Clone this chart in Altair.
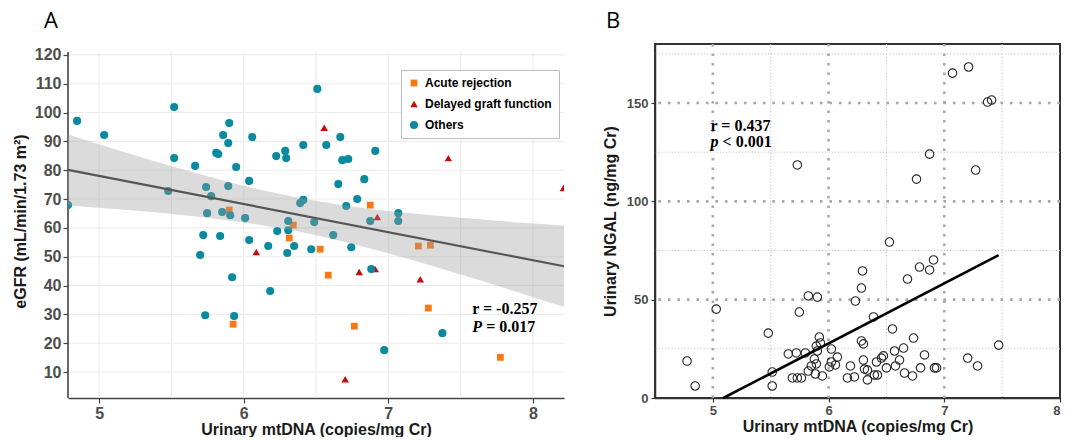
import altair as alt
import pandas as pd

# ---------------- Panel A data ----------------
a_others_x = [4.785, 4.848, 5.035, 5.519, 5.519, 5.664, 5.478, 5.740, 5.775, 5.810,
              5.824, 5.858, 5.900, 5.893, 5.948, 5.893, 6.059, 6.038, 5.747, 5.851,
              5.907, 6.010, 6.225, 6.287, 6.294, 6.232, 5.720, 5.837, 6.038, 6.170,
              5.699, 5.920, 6.183, 5.734, 5.934, 6.509, 6.668, 6.412, 6.571, 6.910,
              6.682, 6.723, 6.834, 6.654, 6.785, 6.412, 6.391, 6.709, 7.069, 7.069,
              6.875, 6.488, 6.308, 6.308, 6.619, 6.349, 6.301, 6.467, 6.744, 6.882,
              7.374, 6.972]
a_others_y = [67.9, 97.1, 92.2, 101.9, 84.2, 81.5, 72.8, 74.2, 71.0, 86.0,
              85.6, 92.2, 96.4, 89.4, 81.1, 74.5, 91.5, 76.3, 65.1, 65.5,
              64.4, 63.4, 84.9, 86.7, 84.2, 58.9, 57.5, 57.2, 55.8, 53.7,
              50.6, 42.9, 38.1, 29.7, 29.4, 108.2, 91.5, 88.75, 88.75, 86.7,
              83.5, 83.9, 76.9, 75.2, 70.0, 69.7, 68.6, 67.6, 65.1, 62.4,
              62.4, 62.0, 62.4, 59.2, 57.5, 53.7, 51.3, 52.6, 53.3, 45.7,
              23.5, 17.6]
a_ar_x = [5.900, 6.343, 6.315, 6.529, 6.585, 6.875, 7.208, 7.291, 7.277, 6.765, 5.927, 7.775]
a_ar_y = [66.2, 61.0, 56.5, 52.6, 43.6, 67.9, 53.7, 54.0, 32.2, 25.9, 26.6, 15.1]
a_dgf_x = [6.087, 6.557, 6.924, 6.799, 6.910, 7.221, 6.702, 7.415, 8.211]
a_dgf_y = [51.6, 94.7, 63.75, 44.7, 45.7, 42.2, 7.5, 84.2, 73.8]
groups = ["Acute rejection", "Delayed graft function", "Others"]

a_fit_x = [4.785, 8.215]
a_fit_y = [80.1, 46.7]
a_band_x = [4.785, 5.2, 5.6, 6.0, 6.35, 6.7, 7.1, 7.5, 7.9, 8.215]
a_band_lo = [67.8, 66.2, 64.3, 61.9, 59.0, 55.1, 49.8, 43.8, 37.6, 32.6]
a_band_hi = [92.4, 85.9, 80.0, 74.6, 70.7, 67.8, 65.3, 63.5, 61.9, 60.8]
a_grid_x = [5, 5.5, 6, 6.5, 7, 7.5, 8]
a_grid_y = [10, 20, 30, 40, 50, 60, 70, 80, 90, 100, 110, 120]
a_xticks = [5, 6, 7, 8]
a_yticks = [10, 20, 30, 40, 50, 60, 70, 80, 90, 100, 110, 120]
a_panel_x = [4.785, 8.215]
a_panel_y = [1, 121]
a_stat_x = [7.58]
a_stat_y = [30.1, 23.8]

# ---------------- Panel B data ----------------
b_x = [4.777, 4.847, 5.029, 5.479, 5.513, 5.513, 5.730, 5.747, 5.825, 5.903,
       5.652, 5.721, 5.799, 5.687, 5.730, 5.765, 5.825, 5.851, 5.877, 5.886,
       5.946, 5.894, 5.894, 5.920, 5.929, 5.903, 6.024, 6.024, 6.076, 6.007,
       6.059, 6.526, 6.907, 6.786, 6.873, 6.293, 6.682, 6.284, 6.232, 6.388,
       6.552, 6.734, 6.284, 6.301, 7.470, 6.648, 6.570, 6.474, 6.829, 7.202,
       7.288, 6.301, 6.613, 6.414, 6.457, 6.189, 6.578, 6.500, 6.795, 6.916,
       6.933, 6.310, 6.336, 6.656, 6.725, 6.396, 6.422, 6.223, 6.163, 6.336,
       7.071, 7.210, 7.374, 7.409, 6.873, 6.760, 7.271]
b_y = [18.8, 6.1, 45.2, 33.0, 13.2, 6.1, 118.5, 43.7, 51.9, 51.3,
       22.4, 22.9, 22.9, 10.2, 10.2, 10.2, 13.7, 16.3, 19.8, 12.2,
       11.2, 17.3, 26.4, 31.0, 28.0, 23.9, 24.9, 18.3, 20.8, 15.8,
       16.8, 79.3, 70.2, 66.6, 65.1, 64.6, 60.5, 55.9, 49.3, 41.2,
       35.1, 30.5, 29.0, 27.5, 26.9, 25.4, 23.9, 21.4, 21.9, 20.3,
       16.3, 19.3, 19.3, 18.3, 20.3, 16.3, 16.3, 15.3, 15.3, 15.3,
       15.3, 14.7, 14.2, 12.7, 11.2, 11.7, 11.7, 10.7, 10.2, 9.2,
       165.2, 168.3, 150.5, 151.5, 124.0, 111.3, 115.9]
b_fit_x = [5.09, 7.47]
b_fit_y = [0.0, 72.6]
b_major_x = [5, 6, 7]
b_minor_x = [5.5, 6.5, 7.5]
b_major_y = [50, 100, 150]
b_minor_y = [25, 75, 125, 175]
b_xticks = [5, 6, 7, 8]
b_yticks = [0, 50, 100, 150]
b_stat_x = [4.98]
b_stat_y = [136.0, 127.4]

# ---------------- styling constants ----------------
FONT = "Liberation Sans"
SERIF = "Liberation Serif"
LABEL_GRAY = "#4d4d4d"

# ---------------- Panel A ----------------
pts = pd.DataFrame({
    "x": a_ar_x + a_dgf_x + a_others_x,
    "y": a_ar_y + a_dgf_y + a_others_y,
    "g": [groups[0]] * len(a_ar_x) + [groups[1]] * len(a_dgf_x) + [groups[2]] * len(a_others_x),
})
ax_scale = alt.Scale(domain=[4.785, 8.215], nice=False, zero=False)
ay_scale = alt.Scale(domain=[1, 123.78], nice=False, zero=False)

ax_axis = alt.Axis(values=a_xticks, grid=False, title="Urinary mtDNA (copies/mg Cr)",
                   domainColor="#444444", domainWidth=1.6, tickColor="#444444",
                   tickSize=5, tickWidth=1.2, labelFont=FONT, labelFontSize=16,
                   labelFontWeight="bold", labelColor=LABEL_GRAY, labelPadding=2,
                   titleFont=FONT, titleFontSize=16, titleFontWeight="bold",
                   titleColor="#1a1a1a", titlePadding=0)
ay_axis = alt.Axis(values=a_yticks, grid=False, domain=False, title="eGFR (mL/min/1.73 m²)",
                   tickColor="#444444",
                   tickSize=5, tickWidth=1.2, labelFont=FONT, labelFontSize=16,
                   labelFontWeight="bold", labelColor=LABEL_GRAY, labelPadding=2,
                   titleFont=FONT, titleFontSize=16, titleFontWeight="bold",
                   titleColor="#1a1a1a", titlePadding=6)

def AX(f):
    return alt.X(f, scale=ax_scale, axis=ax_axis)

def AY(f):
    return alt.Y(f, scale=ay_scale, axis=ay_axis)

leg = alt.Legend(title=None, orient="none", legendX=333, legendY=26,
                 strokeColor="#bdbdbd", fillColor="white", padding=7,
                 labelFont=FONT, labelFontSize=12, labelFontWeight="bold",
                 labelColor="black", rowPadding=9, labelOffset=5, labelLimit=300)

gx_a = alt.Chart(pd.DataFrame({"x": a_grid_x})).mark_rule(color="#ebebeb", strokeWidth=1.1).encode(
    x=AX("x:Q"), y=alt.YDatum(a_panel_y[0], scale=ay_scale, axis=ay_axis), y2=alt.Y2Datum(a_panel_y[1]))
gy_a = alt.Chart(pd.DataFrame({"y": a_grid_y})).mark_rule(color="#ebebeb", strokeWidth=1.1).encode(y=AY("y:Q"))
yline_a = alt.Chart(pd.DataFrame({"x": [a_panel_x[0]]})).mark_rule(color="#444444", strokeWidth=1.6).encode(
    x=AX("x:Q"), y=alt.YDatum(a_panel_y[0], scale=ay_scale, axis=ay_axis), y2=alt.Y2Datum(a_panel_y[1]))

points_a = alt.Chart(pts).mark_point(filled=True, opacity=1, clip=True).encode(
    x=AX("x:Q"), y=AY("y:Q"),
    color=alt.Color("g:N", scale=alt.Scale(domain=groups, range=["#fa7814", "#c80a0a", "#0a8a9f"]), legend=leg),
    shape=alt.Shape("g:N", scale=alt.Scale(domain=groups, range=["square", "triangle-up", "circle"]), legend=leg),
    size=alt.Size("g:N", scale=alt.Scale(domain=groups, range=[46, 66, 32]), legend=leg),
)

band_a = alt.Chart(pd.DataFrame({"x": a_band_x, "lo": a_band_lo, "hi": a_band_hi})).mark_area(
    color="#9a9a9a", opacity=0.36, interpolate="monotone", clip=True).encode(
    x=AX("x:Q"), y=AY("lo:Q"), y2="hi:Q")
line_a = alt.Chart(pd.DataFrame({"x": a_fit_x, "y": a_fit_y})).mark_line(
    color="#555555", strokeWidth=2.2).encode(x=AX("x:Q"), y=AY("y:Q"))

txt_r_a = alt.Chart(pd.DataFrame({"x": a_stat_x, "y": [a_stat_y[0]], "t": ["r = -0.257"]})).mark_text(
    font=SERIF, fontSize=16, fontWeight="bold", align="left", baseline="alphabetic", color="black").encode(
    x=AX("x:Q"), y=AY("y:Q"), text="t:N")
txt_p_a = alt.Chart(pd.DataFrame({"x": a_stat_x, "y": [a_stat_y[1]], "t": ["P"]})).mark_text(
    font=SERIF, fontSize=16, fontWeight="bold", fontStyle="italic", align="left",
    baseline="alphabetic", color="black").encode(x=AX("x:Q"), y=AY("y:Q"), text="t:N")
txt_v_a = alt.Chart(pd.DataFrame({"x": a_stat_x, "y": [a_stat_y[1]], "t": ["= 0.017"]})).mark_text(
    font=SERIF, fontSize=16, fontWeight="bold", align="left", baseline="alphabetic",
    color="black", dx=14).encode(x=AX("x:Q"), y=AY("y:Q"), text="t:N")

panel_a = alt.layer(gx_a, gy_a, yline_a, points_a, band_a, line_a, txt_r_a, txt_p_a, txt_v_a).properties(
    width=496, height=354,
    title=alt.TitleParams("A", anchor="start", frame="group", dx=-24, offset=11,
                          font="Open Sans", fontSize=22, fontWeight="normal", color="black"),
    view=alt.ViewBackground(strokeWidth=0))

# ---------------- Panel B ----------------
bx_scale = alt.Scale(domain=[4.5, 8], nice=False, zero=False)
by_scale = alt.Scale(domain=[0, 180], nice=False, zero=False)

bx_axis = alt.Axis(values=b_xticks, grid=False, title="Urinary mtDNA (copies/mg Cr)",
                   domainColor="#333333", domainWidth=1.5, tickColor="#333333",
                   tickSize=4, tickWidth=1.2, labelFont=FONT, labelFontSize=13,
                   labelFontWeight="bold", labelColor=LABEL_GRAY, labelPadding=2,
                   titleFont=FONT, titleFontSize=16, titleFontWeight="bold",
                   titleColor="#1a1a1a", titlePadding=1)
by_axis = alt.Axis(values=b_yticks, grid=False, title="Urinary NGAL (ng/mg Cr)",
                   domainColor="#333333", domainWidth=1.5, tickColor="#333333",
                   tickSize=4, tickWidth=1.2, labelFont=FONT, labelFontSize=13,
                   labelFontWeight="bold", labelColor=LABEL_GRAY, labelPadding=3,
                   titleFont=FONT, titleFontSize=16, titleFontWeight="bold",
                   titleColor="#1a1a1a", titlePadding=8)

def BX(f):
    return alt.X(f, scale=bx_scale, axis=bx_axis)

def BY(f):
    return alt.Y(f, scale=by_scale, axis=by_axis)

minor_v = alt.Chart(pd.DataFrame({"x": b_minor_x})).mark_rule(
    color="#b8b8b8", strokeWidth=1, strokeDash=[1, 2.2]).encode(x=BX("x:Q"))
minor_h = alt.Chart(pd.DataFrame({"y": b_minor_y})).mark_rule(
    color="#b8b8b8", strokeWidth=1, strokeDash=[1, 2.2]).encode(y=BY("y:Q"))
major_v = alt.Chart(pd.DataFrame({"x": b_major_x})).mark_rule(
    color="#a8a8a8", strokeWidth=2.6, strokeDash=[2.6, 6.9]).encode(x=BX("x:Q"))
major_h = alt.Chart(pd.DataFrame({"y": b_major_y})).mark_rule(
    color="#a8a8a8", strokeWidth=2.6, strokeDash=[2.6, 6.9]).encode(y=BY("y:Q"))

points_b = alt.Chart(pd.DataFrame({"x": b_x, "y": b_y})).mark_point(
    shape="circle", filled=False, color="#262626", strokeWidth=1.1, size=72, opacity=1).encode(
    x=BX("x:Q"), y=BY("y:Q"))
line_b = alt.Chart(pd.DataFrame({"x": b_fit_x, "y": b_fit_y})).mark_line(
    color="black", strokeWidth=2.6).encode(x=BX("x:Q"), y=BY("y:Q"))

txt_r_b = alt.Chart(pd.DataFrame({"x": b_stat_x, "y": [b_stat_y[0]], "t": ["r = 0.437"]})).mark_text(
    font=SERIF, fontSize=16, fontWeight="bold", align="left", baseline="alphabetic", color="black").encode(
    x=BX("x:Q"), y=BY("y:Q"), text="t:N")
txt_p_b = alt.Chart(pd.DataFrame({"x": b_stat_x, "y": [b_stat_y[1]], "t": ["p"]})).mark_text(
    font=SERIF, fontSize=16, fontWeight="bold", fontStyle="italic", align="left",
    baseline="alphabetic", color="black").encode(x=BX("x:Q"), y=BY("y:Q"), text="t:N")
txt_v_b = alt.Chart(pd.DataFrame({"x": b_stat_x, "y": [b_stat_y[1]], "t": ["< 0.001"]})).mark_text(
    font=SERIF, fontSize=16, fontWeight="bold", align="left", baseline="alphabetic",
    color="black", dx=12).encode(x=BX("x:Q"), y=BY("y:Q"), text="t:N")

panel_b = alt.layer(minor_v, minor_h, major_v, major_h, points_b, line_b, txt_r_b, txt_p_b, txt_v_b).properties(
    width=405, height=354,
    title=alt.TitleParams("B", anchor="start", frame="group", dx=-49, offset=10,
                          font="Open Sans", fontSize=22, fontWeight="normal", color="black"),
    view=alt.ViewBackground(stroke="#333333", strokeWidth=2))

chart = alt.hconcat(panel_a, panel_b, spacing=32).properties(
    padding={"left": 12, "top": 8, "right": 5, "bottom": 0}
).configure(background="white")

chart.save("out.html", embed_options={"renderer": "svg", "actions": False})
